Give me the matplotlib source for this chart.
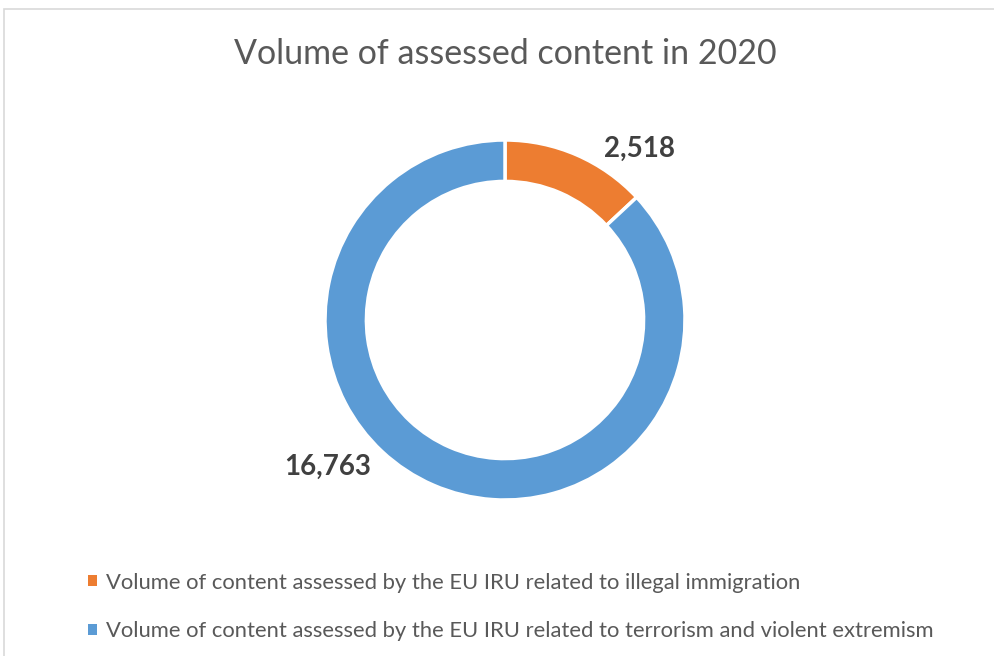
import numpy as np
import matplotlib.pyplot as plt
from matplotlib.patches import Rectangle, Patch

# data
categories = ["Volume of content assessed by the EU IRU related to illegal immigration",
              "Volume of content assessed by the EU IRU related to terrorism and violent extremism"]
values = [2518, 16763]
value_labels = ["2,518", "16,763"]
colors = ["#ED7D31", "#5B9BD5"]

plt.rcParams['font.family'] = ['Lato', 'DejaVu Sans']

fig = plt.figure(figsize=(9.94, 6.56), dpi=100)

# light grey chart frame (right and bottom edges are cut off in the original)
fig.patches.append(Rectangle((4/994, -0.1), 1.2, 1 - 9/656 + 0.1, transform=fig.transFigure,
                             fill=False, edgecolor="#D9D9D9", linewidth=1.2))

# donut axes: centre at (505, 320) px, radius 180 px
R_px = 180
lim = 1.3
w = 2*lim*R_px
ax = fig.add_axes([(505 - w/2)/994, (656 - 320 - w/2)/656, w/994, w/656])

wedges, _ = ax.pie(values, colors=colors, startangle=90, counterclock=False, radius=1.0,
                   wedgeprops=dict(width=0.23, edgecolor='white', linewidth=2.5))
ax.set_xlim(-lim, lim)
ax.set_ylim(-lim, lim)
ax.set_aspect('equal')
ax.axis('off')

# data labels (angle in degrees, distance in radii)
label_pos = [(52, 1.21), (219.5, 1.28)]
for (ang, dist), txt in zip(label_pos, value_labels):
    a = np.deg2rad(ang)
    ax.text(dist*np.cos(a), dist*np.sin(a), txt, ha='center', va='center',
            fontsize=20, fontweight='bold', color='#404040')

fig.text(505/994, 1 - 54/656, "Volume of assessed content in 2020", ha='center', va='center',
         fontsize=24.5, color='#595959')

handles = [Patch(facecolor=c, edgecolor='none') for c in colors]
fig.legend(handles, categories, loc='upper left', bbox_to_anchor=(68/994, 1 - 553/656),
           frameon=False, fontsize=15.8, labelcolor='#595959', handlelength=0.4, handleheight=0.4,
           handletextpad=0.45, labelspacing=1.3)

fig.savefig("out.png", dpi=100)
